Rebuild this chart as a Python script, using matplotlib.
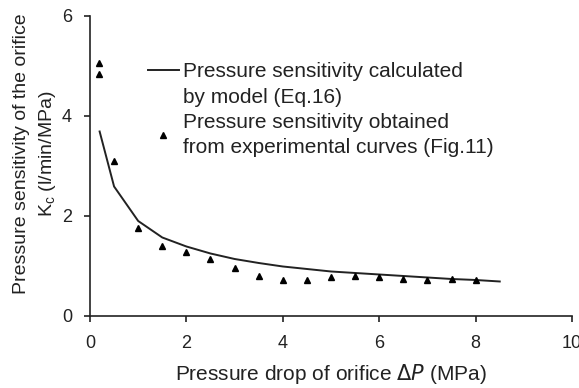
import numpy as np
import matplotlib
matplotlib.use("Agg")
import matplotlib.pyplot as plt
from matplotlib.lines import Line2D

plt.rcParams['font.family'] = ['Liberation Sans', 'DejaVu Sans']

# model curve (Eq.16)
dp_model = [0.2, 0.5, 1.0, 1.5, 2.0, 2.5, 3.0, 3.5, 4.0, 4.5, 5.0, 5.5, 6.0, 6.5, 7.0, 7.5, 8.0, 8.5]
kc_model = [3.69, 2.59, 1.90, 1.57, 1.39, 1.25, 1.14, 1.06, 0.99, 0.94, 0.89, 0.86, 0.83, 0.80, 0.77, 0.74, 0.72, 0.69]

# experimental points (Fig.11)
dp_exp = [0.19, 0.19, 0.5, 1.0, 1.5, 2.0, 2.5, 3.0, 3.5, 4.0, 4.5, 5.0, 5.5, 6.0, 6.5, 7.0, 7.5, 8.0]
kc_exp = [5.05, 4.84, 3.09, 1.75, 1.39, 1.27, 1.13, 0.95, 0.80, 0.72, 0.72, 0.77, 0.79, 0.77, 0.73, 0.71, 0.74, 0.72]

xticks = [0, 2, 4, 6, 8, 10]
yticks = [0, 2, 4, 6]

col = '#222222'

fig = plt.figure(figsize=(5.79, 3.88), dpi=100)
ax = fig.add_axes([0.1554, 0.1856, 0.8326, 0.7732])

line, = ax.plot(dp_model, kc_model, color=col, lw=1.4)
pts, = ax.plot(dp_exp, kc_exp, linestyle='none', marker='^', ms=5, color='black')

ax.set_xlim(0, 10)
ax.set_ylim(0, 6)
ax.set_xticks(xticks)
ax.set_yticks(yticks)
for s in ['top', 'right']:
    ax.spines[s].set_visible(False)
for s in ['left', 'bottom']:
    ax.spines[s].set_color(col)
    ax.spines[s].set_linewidth(1.2)
ax.tick_params(colors=col, labelsize=13, length=4, width=1.2)
ax.tick_params(axis='x', pad=10)
ax.tick_params(axis='y', pad=9)

ax.set_xlabel(r'Pressure drop of orifice $\Delta P$ (MPa)', fontsize=15, color=col, labelpad=7)
ax.set_ylabel('Pressure sensitivity of the orifice\nK$_\\mathregular{c}$ (l/min/MPa)',
              fontsize=14, color=col, linespacing=1.45)
ax.yaxis.set_label_coords(-0.066, 0.54)

# legend: line sample sits at the first text line, as in the original
blank = Line2D([], [], linestyle='none')
leg = ax.legend([line, blank, pts],
                ['Pressure sensitivity calculated', 'by model (Eq.16)',
                 'Pressure sensitivity obtained\nfrom experimental curves (Fig.11)'],
                loc='upper left', bbox_to_anchor=(0.12, 0.845), frameon=False,
                fontsize=15, handlelength=1.5, handletextpad=0.2,
                labelspacing=0.3, borderaxespad=0, borderpad=0)
for t in leg.get_texts():
    t.set_color(col)
    t.set_linespacing(1.38)

fig.savefig('out.png', dpi=100)
